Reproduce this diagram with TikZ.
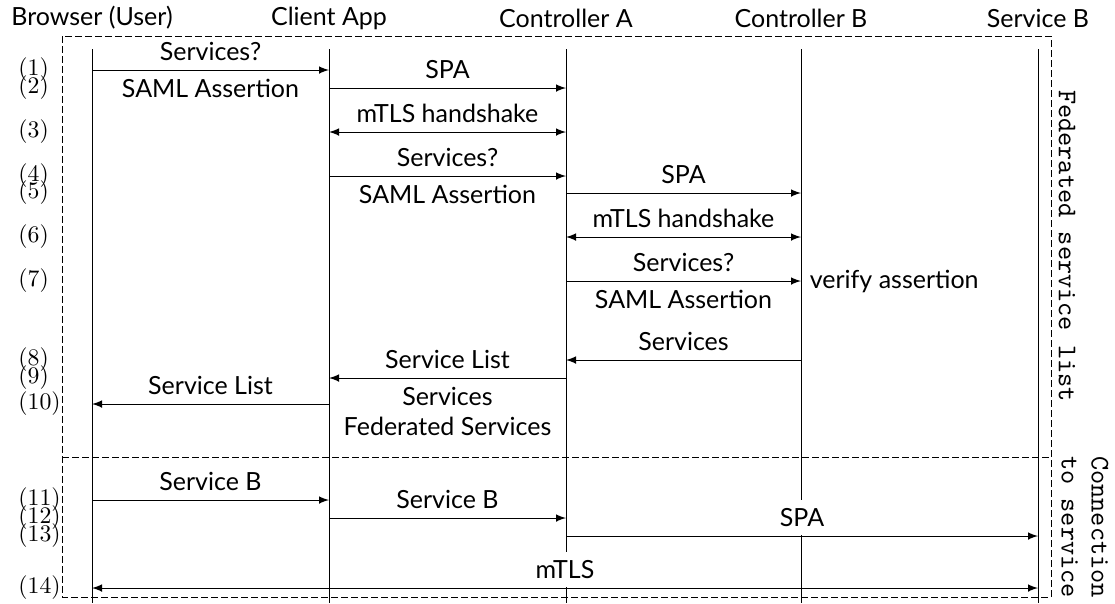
\documentclass[tikz,border=0pt]{standalone}
\usepackage{fontspec}
\setsansfont{Lato}
\usetikzlibrary{calc}

\tikzset{
	actor/.style={font=\sffamily},
	txt/.style={font=\sffamily},
	msg/.style={->,>=latex},
	hand/.style={<->,>=latex},
	num/.style={anchor=west,inner sep=0pt,font=\fontsize{9.5}{11}\selectfont},
	side/.style={rotate=-90,align=center,font=\fontsize{10.8}{12}\selectfont\ttfamily},
	frame/.style={dash pattern=on 2.6pt off 1.4pt},
	cover/.style={fill=white},
}

\begin{document}
\begin{tikzpicture}[x=0.4pt,y=-0.4pt]
		%%%%% START %%%%%
		\useasboundingbox (0,0) rectangle (1115,603);
		
		% participants
		\node[actor] (brw) at (92,18) {Browser (User)};
		\node[actor] (cli) at (329,18) {Client App};
		\node[actor] (cta) at (566,18) {Controller A};
		\node[actor] (ctb) at (801,18) {Controller B};
		\node[actor] (svb) at (1038,18) {Service B};
		
		% phases
		\draw[frame] (62,36) rectangle (1051,597);
		\draw[frame] (62,457) -- (1051,457);
		\node[side] (fed) at (1067,246) {Federated service list};
		\node[side] (conn) at (1085,527) {Connection\\to service};
		
		% lifelines
		\draw (brw |- 0,49) -- (brw |- 0,603);
		\draw (cli |- 0,49) -- (cli |- 0,603);
		\draw (cta |- 0,49) -- (cta |- 0,603);
		\draw (ctb |- 0,49) -- (ctb |- 0,603);
		\draw (svb |- 0,49) -- (svb |- 0,603);
		
		% steps
		\node[num] (n1) at (18,70) {(1)};
		\node[num] (n2) at (18,88) {(2)};
		\node[num] (n3) at (18,132) {(3)};
		\node[num] (n4) at (18,176) {(4)};
		\node[num] (n5) at (18,193) {(5)};
		\node[num] (n6) at (18,237) {(6)};
		\node[num] (n7) at (18,281) {(7)};
		\node[num] (n8) at (18,360) {(8)};
		\node[num] (n9) at (18,378) {(9)};
		\node[num] (n10) at (18,404) {(10)};
		\node[num] (n11) at (18,500) {(11)};
		\node[num] (n12) at (18,518) {(12)};
		\node[num] (n13) at (18,536) {(13)};
		\node[num] (n14) at (18,588) {(14)};
		
		% federated service list
		\draw[msg] (brw |- n1) -- node[txt,above] {Services?} node[txt,below] {SAML Assertion} (cli |- n1);
		\draw[msg] (cli |- n2) -- node[txt,above] {SPA} (cta |- n2);
		\draw[hand] (cli |- n3) -- node[txt,above] {mTLS handshake} (cta |- n3);
		\draw[msg] (cli |- n4) -- node[txt,above] {Services?} node[txt,below] {SAML Assertion} (cta |- n4);
		\draw[msg] (cta |- n5) -- node[txt,above] {SPA} (ctb |- n5);
		\draw[hand] (cta |- n6) -- node[txt,above] {mTLS handshake} (ctb |- n6);
		\draw[msg] (cta |- n7) -- node[txt,above] {Services?} node[txt,below] {SAML Assertion} (ctb |- n7);
		\node[txt,anchor=west] (verify) at (ctb |- n7) {verify assertion};
		\draw[msg] (ctb |- n8) -- node[txt,above] {Services} (cta |- n8);
		\draw[msg] (cta |- n9) -- node[txt,above] {Service List} node[txt,below,align=center] {Services\\Federated Services} (cli |- n9);
		\draw[msg] (cli |- n10) -- node[txt,above] {Service List} (brw |- n10);
		
		% connection to service
		\draw[msg] (brw |- n11) -- node[txt,above] {Service B} (cli |- n11);
		\draw[msg] (cli |- n12) -- node[txt,above] {Service B} (cta |- n12);
		\draw[msg] (cta |- n13) -- node[txt,cover,above=0.3pt] {SPA} (svb |- n13);
		\draw[hand] (brw |- n14) -- node[txt,cover,above=0.3pt] {mTLS} (svb |- n14);
		
		%%%%% END %%%%%
	\end{tikzpicture}
\end{document}
